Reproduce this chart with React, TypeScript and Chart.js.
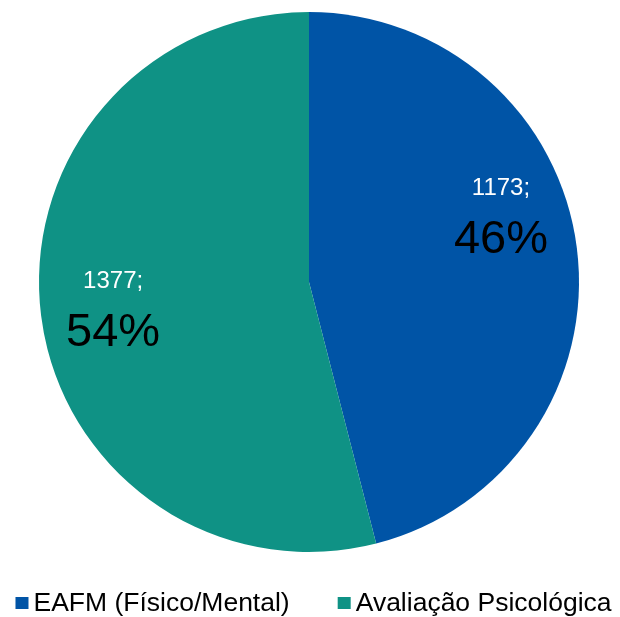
import React, { useEffect, useRef } from "react";
import { Chart, registerables } from "chart.js";

Chart.register(...registerables);

const categories = ["EAFM (Físico/Mental)", "Avaliação Psicológica"];
const counts = [1173, 1377];
const percentLabels = ["46%", "54%"];
const colors = ["#0054A6", "#0F9285"];

const FONT = "'Liberation Sans', Arial, sans-serif";

const labelPlugin = {
  id: "sliceLabels",
  afterDatasetsDraw(chart: any, _args: any, opts: any) {
    const ctx = chart.ctx;
    const meta = chart.getDatasetMeta(0);
    meta.data.forEach((arc: any, i: number) => {
      const { x, y, startAngle, endAngle, outerRadius } = arc.getProps(
        ["x", "y", "startAngle", "endAngle", "outerRadius"],
        true
      );
      const mid = (startAngle + endAngle) / 2 + ((opts.angleShift?.[i] || 0) * Math.PI) / 180;
      const r = outerRadius * (opts.radial?.[i] ?? 0.75);
      const cx = x + Math.cos(mid) * r;
      const cy = y + Math.sin(mid) * r;
      ctx.save();
      ctx.textAlign = "center";
      ctx.textBaseline = "alphabetic";
      ctx.fillStyle = "#FFFFFF";
      ctx.font = `24px ${FONT}`;
      ctx.fillText(`${counts[i]};`, cx, cy - 16);
      ctx.fillStyle = "#000000";
      ctx.font = `47px ${FONT}`;
      ctx.fillText(percentLabels[i], cx, cy + 42);
      ctx.restore();
    });
  },
};

const legendPlugin = {
  id: "bottomLegend",
  afterDraw(chart: any) {
    const ctx = chart.ctx;
    const sq = 13;
    const gap = 5;
    const itemGap = 48;
    ctx.save();
    ctx.font = `26.5px ${FONT}`;
    const widths = categories.map((c) => ctx.measureText(c).width);
    let total = 0;
    widths.forEach((w, i) => {
      total += sq + gap + w + (i < widths.length - 1 ? itemGap : 0);
    });
    let x = chart.width / 2 + 3.5 - total / 2;
    const baseline = chart.chartArea.bottom + 59;
    categories.forEach((c, i) => {
      ctx.fillStyle = colors[i];
      ctx.fillRect(x, baseline - 14, sq, sq - 1);
      x += sq + gap;
      ctx.fillStyle = "#000000";
      ctx.textAlign = "left";
      ctx.textBaseline = "alphabetic";
      ctx.fillText(c, x, baseline);
      x += widths[i] + itemGap;
    });
    ctx.restore();
  },
};

export default function App() {
  const ref = useRef<HTMLCanvasElement>(null);
  useEffect(() => {
    document.body.style.margin = "0";
    const chart = new Chart(ref.current!, {
      type: "pie",
      data: {
        labels: categories,
        datasets: [
          {
            data: counts,
            backgroundColor: colors,
            borderWidth: 0,
          },
        ],
      },
      options: {
        animation: false,
        responsive: false,
        maintainAspectRatio: false,
        layout: { padding: { top: 12, left: 0, right: 2, bottom: 65 } },
        plugins: {
          tooltip: { enabled: false },
          legend: { display: false },
          sliceLabels: { radial: [0.758, 0.73], angleShift: [-13.1, 0.8] },
        } as any,
      },
      plugins: [labelPlugin, legendPlugin],
    });
    return () => chart.destroy();
  }, []);
  return (
    <div style={{ width: 620, height: 617, background: "#fff" }}>
      <canvas ref={ref} width={620} height={617} />
    </div>
  );
}
